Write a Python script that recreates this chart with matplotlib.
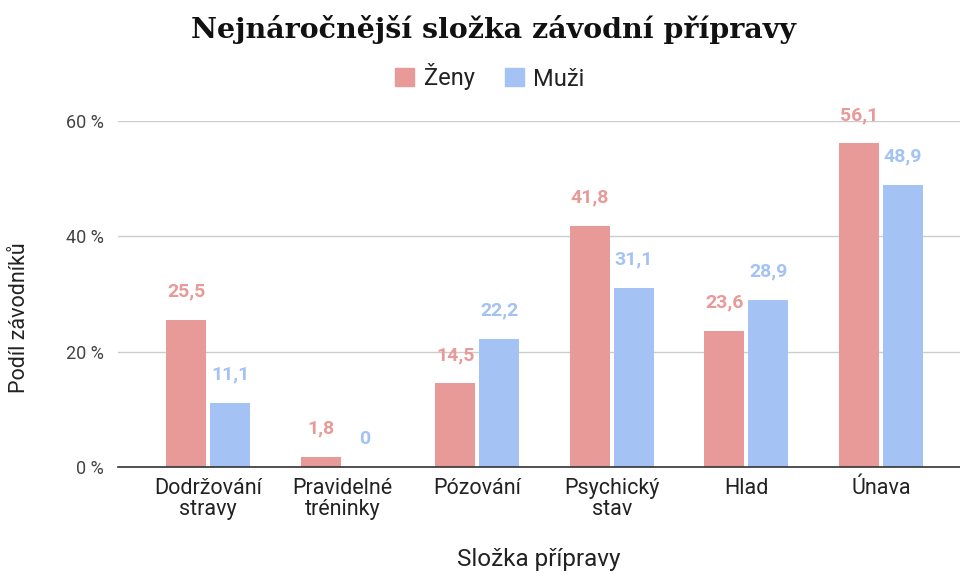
import matplotlib
matplotlib.use("Agg")
import matplotlib.pyplot as plt
import numpy as np
from matplotlib.patches import Patch

categories = ["Dodržování\nstravy", "Pravidelné\ntréninky", "Pózování", "Psychický\nstav", "Hlad", "Únava"]
zeny = [25.5, 1.8, 14.5, 41.8, 23.6, 56.1]
muzi = [11.1, 0.0, 22.2, 31.1, 28.9, 48.9]
zeny_labels = ["25,5", "1,8", "14,5", "41,8", "23,6", "56,1"]
muzi_labels = ["11,1", "0", "22,2", "31,1", "28,9", "48,9"]
yticks = [0, 20, 40, 60]
ytick_labels = ["0 %", "20 %", "40 %", "60 %"]

PINK = "#E89A99"
BLUE = "#A4C2F4"

plt.rcParams['font.family'] = ['Roboto', 'DejaVu Sans']

fig = plt.figure(figsize=(9.6, 5.74), dpi=100)
ax = fig.add_axes([118/960, 1-467/574, 842/960, (467-121)/574])

x = np.arange(len(categories))
w = 0.297
off = 0.1485 + 0.015
ax.bar(x - off, zeny, width=w, color=PINK, zorder=3)
ax.bar(x + off, muzi, width=w, color=BLUE, zorder=3)

for xi, v, lab in zip(x - off, zeny, zeny_labels):
    ax.annotate(lab, (xi, v), xytext=(0, 14), textcoords="offset points",
                ha="center", va="bottom", color=PINK, fontsize=14, fontweight="bold", annotation_clip=False)
for xi, v, lab in zip(x + off, muzi, muzi_labels):
    ax.annotate(lab, (xi, v), xytext=(0, 14), textcoords="offset points",
                ha="center", va="bottom", color=BLUE, fontsize=14, fontweight="bold", annotation_clip=False)

ax.set_xlim(-0.669, 5.587)
ax.set_ylim(0, 60)
ax.set_yticks(yticks)
ax.set_yticklabels(ytick_labels, color="#444444", fontsize=13)
ax.set_xticks(x)
ax.set_xticklabels(categories, fontsize=15.5, color="#222222", linespacing=1.0)
ax.tick_params(axis="both", length=0)
ax.tick_params(axis="y", pad=10)
ax.tick_params(axis="x", pad=8)
ax.grid(axis="y", color="#cccccc", linewidth=1, zorder=0)
for s in ["top", "right", "left"]:
    ax.spines[s].set_visible(False)
ax.spines["bottom"].set_color("#333333")
ax.spines["bottom"].set_linewidth(1.2)
ax.spines["bottom"].set_zorder(4)

ax.set_xlabel("Složka přípravy", fontsize=17.5, color="#222222", labelpad=20)
fig.text(20/960, 1-318/574, "Podíl závodníků", rotation=90, ha="center", va="center",
         fontsize=15.5, color="#222222")

fig.text(494/960, 1-30/574, "Nejnáročnější složka závodní přípravy", ha="center", va="center",
         fontsize=20.5, fontweight="bold", family=["DejaVu Serif"], color="#111111")

handles = [Patch(color=PINK, label="Ženy"), Patch(color=BLUE, label="Muži")]
leg = fig.legend(handles=handles, loc="center", bbox_to_anchor=(490/960, 1-77/574), ncol=2,
                 frameon=False, fontsize=17, handlelength=0.8, handleheight=0.8,
                 handletextpad=0.4, columnspacing=1.3)
for t in leg.get_texts():
    t.set_color("#222222")

fig.savefig("out.png", dpi=100)
